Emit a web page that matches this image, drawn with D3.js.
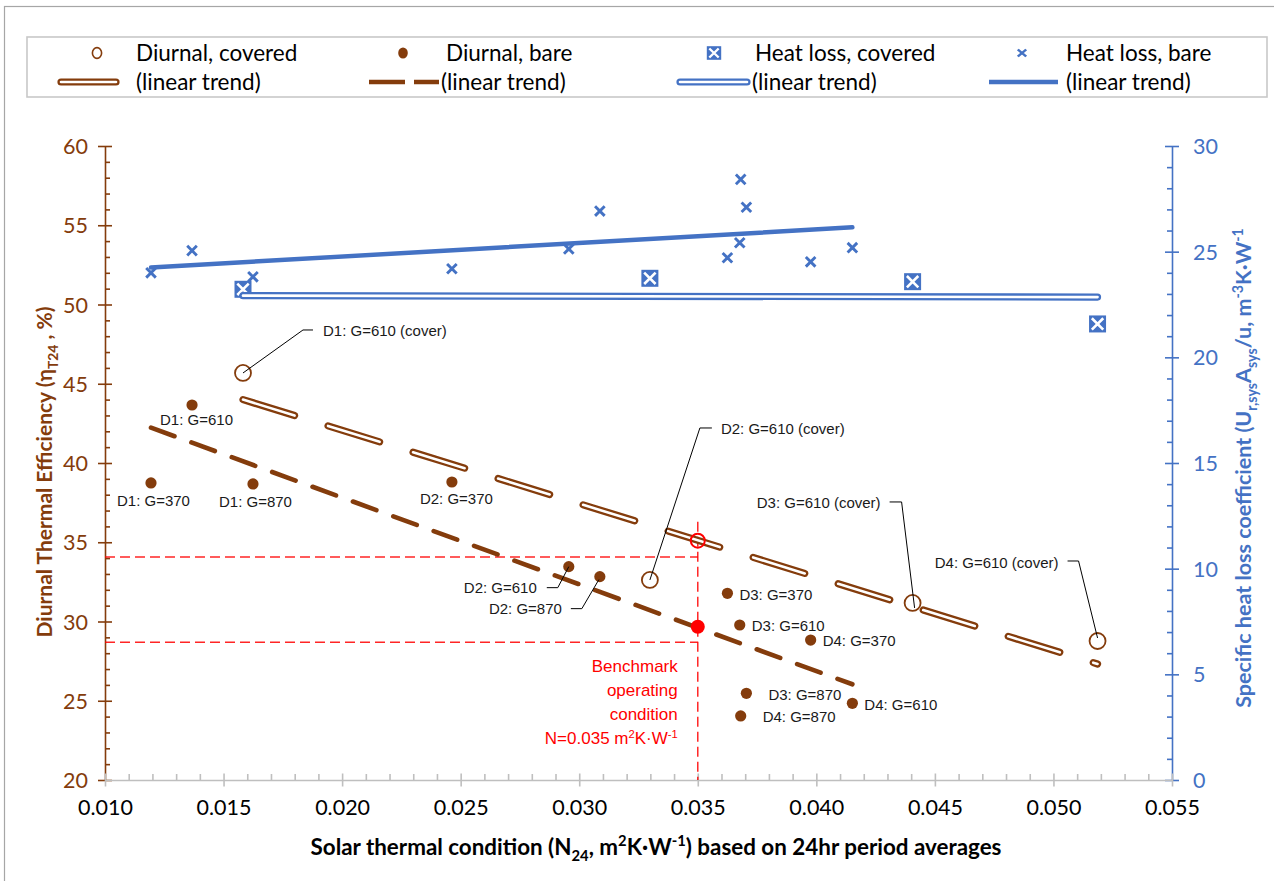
<!DOCTYPE html>
<html>
<head>
<meta charset="utf-8">
<script src="https://cdn.jsdelivr.net/npm/d3@7"></script>
<style>
  body { margin: 0; background: #fff; }
  svg { display: block; }
</style>
</head>
<body>
<svg id="chart" width="1274" height="881"></svg>
<script>
// ---- Data -------------------------------------------------------------
// Covered runs: solar thermal condition N24 (m²K/W), diurnal efficiency (%), heat loss coefficient
const nCovered = [0.01582, 0.03298, 0.04406, 0.05186];
const coveredLabels = ["D1: G=610 (cover)", "D2: G=610 (cover)", "D3: G=610 (cover)", "D4: G=610 (cover)"];
const effCovered = [45.68, 32.62, 31.17, 28.77];
const heatCovered = [23.22, 23.74, 23.58, 21.58];

// Bare runs
const nBare = [0.01194, 0.01367, 0.01624, 0.02463, 0.02956, 0.03087, 0.03625, 0.03677, 0.03705, 0.03681, 0.03976, 0.04152];
const bareLabels = ["D1: G=370", "D1: G=610", "D1: G=870", "D2: G=370", "D2: G=610", "D2: G=870",
                    "D3: G=370", "D3: G=610", "D3: G=870", "D4: G=870", "D4: G=370", "D4: G=610"];
const effBare = [38.74, 43.66, 38.68, 38.80, 33.46, 32.83, 31.78, 29.78, 25.47, 24.04, 28.83, 24.84];
const heatBare = [24.00, 25.05, 23.81, 24.19, 25.13, 26.92, 24.71, 25.42, 27.10, 28.42, 24.52, 25.19];

// Linear trend values at the lowest and highest N of each series
const trendEffCovered = [44.00, 27.32];
const trendEffBare = [42.23, 26.04];
const trendHeatCovered = [22.92, 22.85];
const trendHeatBare = [24.25, 26.15];

// Benchmark operating condition
const benchN = 0.035;
const benchEffCovered = 35.10;
const benchEffBare = 29.67;
const benchGuides = [34.07, 28.69];
const benchTop = 36.3;
const benchText = ["Benchmark", "operating", "condition"];

// Axis ticks
const xTicks = [0.010, 0.015, 0.020, 0.025, 0.030, 0.035, 0.040, 0.045, 0.050, 0.055];
const effTicks = [20, 25, 30, 35, 40, 45, 50, 55, 60];
const heatTicks = [0, 5, 10, 15, 20, 25, 30];

const legendLabels = ["Diurnal, covered", "Diurnal, bare", "Heat loss, covered", "Heat loss, bare"];
const trendLabel = "(linear trend)";

// ---- Styling ------------------------------------------------------------
const BROWN = "#843C0C", BLUE = "#4472C4", RED = "#FF0000", GRAY = "#BFBFBF";
const UI_FONT = "Lato, 'Open Sans', sans-serif";
const LABEL_FONT = "'Liberation Sans', Arial, sans-serif";
const TICK_SIZE = 21.5;

const svg = d3.select("#chart");
const W = 1274, H = 881;
const plot = { left: 105, right: 1172, top: 146, bottom: 780 };

const x = d3.scaleLinear().domain([0.010, 0.055]).range([plot.left, plot.right]);
const yL = d3.scaleLinear().domain([20, 60]).range([plot.bottom, plot.top]);
const yR = d3.scaleLinear().domain([0, 30]).range([plot.bottom, plot.top]);

svg.append("rect").attr("width", W).attr("height", H).attr("fill", "#fff");
// chart area frame
svg.append("rect").attr("x", 4.5).attr("y", 6.5).attr("width", W + 20).attr("height", H + 20)
  .attr("fill", "none").attr("stroke", "#A6A6A6").attr("stroke-width", 1.2);

// text with sub/superscript runs
function richText(sel, parts, size) {
  let shift = 0;
  parts.forEach(([str, kind]) => {
    const target = kind === "sub" ? 0.28 * size : kind === "sup" ? -0.38 * size : 0;
    const t = sel.append("tspan").text(str).attr("dy", target - shift);
    if (kind) t.attr("font-size", size * 0.66);
    shift = target;
  });
}

// ---- Axes -------------------------------------------------------------
const range = (a, b, s) => d3.range(Math.round(a / s), Math.round(b / s) + 1).map(i => +(i * s).toFixed(6));
const xMinor = range(0.010, 0.055, 0.001).filter(v => !xTicks.some(t => Math.abs(t - v) < 1e-9));
const effMinor = range(20, 60, 1).filter(v => v % 5 !== 0);
const heatMinor = range(0, 30, 1).filter(v => v % 5 !== 0);

// left axis
const gL = svg.append("g").attr("transform", `translate(${plot.left},0)`);
gL.append("g").call(d3.axisLeft(yL).tickValues(effMinor).tickSizeInner(-5).tickSizeOuter(0).tickFormat(""))
  .call(g => g.select(".domain").remove());
gL.append("g").call(d3.axisLeft(yL).tickValues(effTicks).tickSizeInner(7).tickSizeOuter(0).tickFormat(d3.format("d")))
  .call(g => g.selectAll(".tick line").attr("x1", 7));
gL.selectAll("line, path").attr("stroke", BROWN).attr("stroke-width", 1.6);
gL.selectAll("text").attr("x", -17).attr("dy", "0.35em").attr("fill", BROWN)
  .attr("font-family", UI_FONT).attr("font-size", TICK_SIZE);

// right axis
const gR = svg.append("g").attr("transform", `translate(${plot.right},0)`);
gR.append("g").call(d3.axisRight(yR).tickValues(heatMinor).tickSizeInner(-5).tickSizeOuter(0).tickFormat(""))
  .call(g => g.select(".domain").remove());
gR.append("g").call(d3.axisRight(yR).tickValues(heatTicks).tickSizeInner(7).tickSizeOuter(0).tickFormat(d3.format("d")))
  .call(g => g.selectAll(".tick line").attr("x1", -7));
gR.selectAll("line, path").attr("stroke", BLUE).attr("stroke-width", 1.6);
gR.selectAll("text").attr("x", 21).attr("dy", "0.35em").attr("fill", BLUE)
  .attr("font-family", UI_FONT).attr("font-size", TICK_SIZE);

// bottom axis
const gX = svg.append("g").attr("transform", `translate(0,${plot.bottom})`);
gX.append("g").call(d3.axisBottom(x).tickValues(xMinor).tickSizeInner(-6).tickSizeOuter(0).tickFormat(""))
  .call(g => g.select(".domain").remove());
gX.append("g").call(d3.axisBottom(x).tickValues(xTicks).tickSizeInner(6.5).tickSizeOuter(0).tickFormat(d3.format(".3f")))
  .call(g => g.selectAll(".tick line").attr("y1", -6.5));
gX.selectAll("line, path").attr("stroke", GRAY).attr("stroke-width", 1.6);
gX.selectAll("text").attr("y", 27).attr("dy", "0.35em").attr("fill", "#000")
  .attr("font-family", UI_FONT).attr("font-size", TICK_SIZE);

// axis titles
const tX = svg.append("text").attr("x", 656).attr("y", 855).attr("text-anchor", "middle")
  .attr("font-family", UI_FONT).attr("font-weight", 700).attr("font-size", 22.4).attr("fill", "#000");
richText(tX, [["Solar thermal condition (N"], ["24", "sub"], [", m"], ["2", "sup"], ["K·W"], ["-1", "sup"], [") based on 24hr period averages"]], 22.4);

const tL = svg.append("text").attr("transform", "translate(52,472) rotate(-90)").attr("text-anchor", "middle")
  .attr("font-family", UI_FONT).attr("font-weight", 700).attr("font-size", 21).attr("fill", BROWN);
richText(tL, [["Diurnal Thermal Efficiency (η"], ["T24", "sub"], [" , %)"]], 21);

const tR = svg.append("text").attr("transform", "translate(1251,468) rotate(-90)").attr("text-anchor", "middle")
  .attr("font-family", UI_FONT).attr("font-weight", 700).attr("font-size", 21.5).attr("fill", BLUE);
richText(tR, [["Specific heat loss coefficient (U"], ["r,sys", "sub"], ["A"], ["sys", "sub"], ["/u, m"], ["-3", "sup"], ["K·W"], ["-1", "sup"]], 21.5);

// ---- Benchmark guides --------------------------------------------------------
const gB = svg.append("g");
gB.selectAll("line.h").data(benchGuides).join("line").attr("class", "h")
  .attr("x1", plot.left).attr("x2", x(benchN)).attr("y1", d => yL(d)).attr("y2", d => yL(d))
  .attr("stroke", RED).attr("stroke-width", 1.5).attr("stroke-dasharray", "10,5").attr("opacity", 0.85);
gB.append("line").attr("x1", x(benchN)).attr("x2", x(benchN)).attr("y1", yL(benchTop)).attr("y2", yL(20))
  .attr("stroke", RED).attr("stroke-width", 1.5).attr("stroke-dasharray", "10,5").attr("opacity", 0.85);

const bt = gB.append("g").attr("font-family", LABEL_FONT).attr("font-size", 17).attr("fill", RED).attr("text-anchor", "end");
benchText.forEach((s, i) => bt.append("text").attr("x", x(benchN) - 20).attr("y", 672 + i * 24).text(s));
richText(bt.append("text").attr("x", x(benchN) - 20).attr("y", 672 + 3 * 24),
  [["N=" + benchN.toFixed(3) + " m"], ["2", "sup"], ["K·W"], ["-1", "sup"]], 17);

// ---- Markers -------------------------------------------------------------------
const covered = nCovered.map((n, i) => ({ n, eff: effCovered[i], heat: heatCovered[i], label: coveredLabels[i] }));
const bare = nBare.map((n, i) => ({ n, eff: effBare[i], heat: heatBare[i], label: bareLabels[i] }));

function boxX(g, size) {
  const h = size / 2;
  g.append("rect").attr("x", -h).attr("y", -h).attr("width", size).attr("height", size).attr("fill", BLUE);
  const a = h - 2.8;
  g.append("path").attr("d", `M${-a},${-a}L${a},${a}M${-a},${a}L${a},${-a}`)
    .attr("stroke", "#fff").attr("stroke-width", 2.6);
}
function cross(g, arm, w) {
  g.append("path").attr("d", `M${-arm},${-arm}L${arm},${arm}M${-arm},${arm}L${arm},${-arm}`)
    .attr("stroke", BLUE).attr("stroke-width", w);
}

// heat loss markers (right axis)
svg.append("g").selectAll("g").data(bare).join("g")
  .attr("transform", d => `translate(${x(d.n)},${yR(d.heat)})`).each(function () { cross(d3.select(this), 4.8, 2.9); });
svg.append("g").selectAll("g").data(covered).join("g")
  .attr("transform", d => `translate(${x(d.n)},${yR(d.heat)})`).each(function () { boxX(d3.select(this), 17); });

// diurnal efficiency markers (left axis)
svg.append("g").selectAll("circle").data(covered).join("circle")
  .attr("cx", d => x(d.n)).attr("cy", d => yL(d.eff)).attr("r", 8)
  .attr("fill", "none").attr("stroke", BROWN).attr("stroke-width", 1.8);
svg.append("g").selectAll("circle").data(bare).join("circle")
  .attr("cx", d => x(d.n)).attr("cy", d => yL(d.eff)).attr("r", 5.6).attr("fill", BROWN);

// ---- Trend lines --------------------------------------------------------------
const line = d3.line();
function trend(ns, vals, yScale) {
  const [a, b] = d3.extent(ns);
  return line([[x(a), yScale(vals[0])], [x(b), yScale(vals[1])]]);
}
function doubleLine(g, d, color, dash) {
  g.append("path").attr("d", d).attr("fill", "none").attr("stroke", color).attr("stroke-width", 7.2)
    .attr("stroke-linecap", "round").attr("stroke-dasharray", dash);
  g.append("path").attr("d", d).attr("fill", "none").attr("stroke", "#fff").attr("stroke-width", 2.6)
    .attr("stroke-linecap", "round").attr("stroke-dasharray", dash);
}
const gT = svg.append("g");
gT.append("path").attr("d", trend(nBare, trendHeatBare, yR)).attr("fill", "none")
  .attr("stroke", BLUE).attr("stroke-width", 4.5).attr("stroke-linecap", "round");
doubleLine(gT, trend(nCovered, trendHeatCovered, yR), BLUE, null);
gT.append("path").attr("d", trend(nBare, trendEffBare, yL)).attr("fill", "none")
  .attr("stroke", BROWN).attr("stroke-width", 4.6).attr("stroke-linecap", "round").attr("stroke-dasharray", "25,18");
doubleLine(gT, trend(nCovered, trendEffCovered, yL), BROWN, "54,35");

// benchmark points on the trends
svg.append("circle").attr("cx", x(benchN)).attr("cy", yL(benchEffCovered)).attr("r", 7)
  .attr("fill", "none").attr("stroke", RED).attr("stroke-width", 2);
svg.append("circle").attr("cx", x(benchN)).attr("cy", yL(benchEffBare)).attr("r", 7).attr("fill", RED);

// ---- Data labels -------------------------------------------------------------------
const bareLayout = [
  { dx: -34, dy: 18 }, { dx: -32, dy: 15 }, { dx: -34, dy: 18 }, { dx: -32, dy: 17 },
  { dx: -32, dy: 21, anchor: "end", leader: [[-22, 21], [-11, 21], [0, 0]] },
  { dx: -38, dy: 32, anchor: "end", leader: [[-29, 32], [-18, 32], [-1, 3]] },
  { dx: 12, dy: 1 }, { dx: 12, dy: 1 }, { dx: 22, dy: 1 }, { dx: 22, dy: 1 }, { dx: 12, dy: 1 }, { dx: 12, dy: 1 }
];
const coveredLayout = [
  { dx: 80, dy: -42, leader: [[0, 0], [60, -43], [70, -43]] },
  { dx: 71, dy: -151, leader: [[0, 0], [50, -152], [62, -152]] },
  { dx: -32, dy: -100, anchor: "end", leader: [[2, 5], [-11, -101], [-23, -101]] },
  { dx: -39, dy: -78, anchor: "end", leader: [[0, -3], [-19, -80], [-30, -80]] }
];
function labels(data, layout) {
  const g = svg.append("g");
  data.forEach((d, i) => {
    const L = layout[i], px = x(d.n), py = yL(d.eff);
    if (L.leader) {
      g.append("path").attr("d", line(L.leader.map(([a, b]) => [px + a, py + b])))
        .attr("fill", "none").attr("stroke", "#000").attr("stroke-width", 1);
    }
    g.append("text").attr("x", px + L.dx).attr("y", py + L.dy).attr("dy", "0.35em")
      .attr("text-anchor", L.anchor || "start").attr("font-family", LABEL_FONT)
      .attr("font-size", 15).attr("fill", "#1a1a1a").text(d.label);
  });
}
labels(bare, bareLayout);
labels(covered, coveredLayout);

// ---- Legend -------------------------------------------------------------------
const gLeg = svg.append("g");
gLeg.append("rect").attr("x", 27).attr("y", 37).attr("width", 1240).attr("height", 60)
  .attr("fill", "#fff").attr("stroke", "#C8C8C8").attr("stroke-width", 1.6);
const legX = [136, 446, 755, 1066];
const row1 = 53, row2 = 82;
legendLabels.forEach((s, i) => {
  gLeg.append("text").attr("x", legX[i]).attr("y", row1).attr("dy", "0.35em")
    .attr("font-family", UI_FONT).attr("font-size", 22.5).attr("fill", "#000").text(s);
  gLeg.append("text").attr("x", legX[i] + (i === 1 ? -5 : i === 2 ? -3 : 0)).attr("y", row2).attr("dy", "0.35em")
    .attr("font-family", UI_FONT).attr("font-size", 22.5).attr("fill", "#000").text(trendLabel);
});
// legend symbols
gLeg.append("ellipse").attr("cx", 97).attr("cy", row1).attr("rx", 4.6).attr("ry", 5.4)
  .attr("fill", "none").attr("stroke", BROWN).attr("stroke-width", 1.6);
gLeg.append("ellipse").attr("cx", 403).attr("cy", row1).attr("rx", 4.8).attr("ry", 5.6).attr("fill", BROWN);
boxX(gLeg.append("g").attr("transform", `translate(714,${row1}) scale(0.9,0.85)`), 16);
cross(gLeg.append("g").attr("transform", `translate(1022,${row1}) scale(1,0.85)`), 4.2, 2.6);
doubleLine(gLeg, line([[61, row2], [116, row2]]), BROWN, null);
gLeg.append("path").attr("d", line([[369, row2], [439, row2]])).attr("stroke", BROWN)
  .attr("stroke-width", 4.4).attr("stroke-dasharray", "36,9");
doubleLine(gLeg, line([[680, row2], [747, row2]]), BLUE, null);
gLeg.append("path").attr("d", line([[989, row2], [1058, row2]])).attr("stroke", BLUE).attr("stroke-width", 4.4);
</script>
</body>
</html>
